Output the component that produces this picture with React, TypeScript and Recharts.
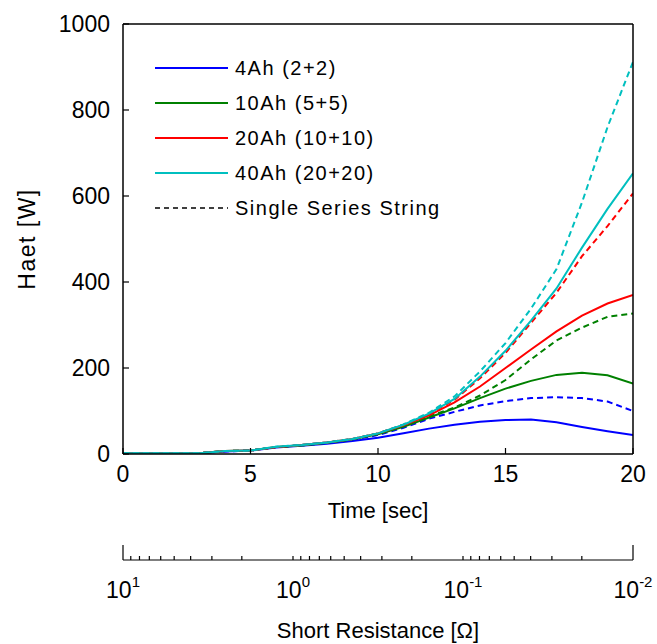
import React from 'react'
import { LineChart, Line, XAxis, YAxis, Legend } from 'recharts'

// time axis (sec) and heat (W) for each pack
const TIME = [0, 1, 2, 3, 4, 5, 6, 7, 8, 9, 10, 11, 12, 13, 14, 15, 16, 17, 18, 19, 20]
const AH4 = [2, 2, 2, 2, 6, 8, 15, 19, 24, 30, 38, 48, 59, 68, 75, 79, 80, 74, 63, 53, 44]
const AH4_SINGLE = [2, 2, 2, 2, 6, 8, 16, 20, 26, 33, 44, 61, 82, 98, 113, 123, 130, 132, 130, 122, 100]
const AH10 = [2, 2, 2, 2, 7, 8, 16, 20, 26, 34, 46, 63, 85, 106, 130, 152, 170, 184, 189, 183, 164]
const AH10_SINGLE = [2, 2, 2, 2, 7, 8, 16, 20, 26, 34, 47, 65, 88, 108, 136, 172, 220, 264, 294, 319, 327]
const AH20 = [2, 2, 2, 2, 7, 8, 16, 21, 27, 35, 48, 67, 90, 120, 157, 200, 243, 285, 322, 350, 370]
const AH20_SINGLE = [2, 2, 2, 2, 7, 8, 16, 21, 27, 35, 48, 68, 93, 126, 176, 235, 305, 375, 460, 530, 606]
const AH40 = [2, 2, 2, 2, 7, 8, 17, 21, 27, 35, 48, 68, 94, 128, 180, 240, 310, 385, 480, 570, 653]
const AH40_SINGLE = [2, 2, 2, 2, 7, 8, 17, 21, 27, 35, 48, 69, 96, 134, 192, 258, 338, 430, 585, 760, 912]

const TIME_DOMAIN = [0, 20]
const TIME_TICKS = [0, 5, 10, 15, 20]
const HEAT_DOMAIN = [0, 1000]
const HEAT_TICKS = [0, 200, 400, 600, 800, 1000]
// short resistance falls one decade every 20/3 s, from 10 ohm at t=0 to 0.01 ohm at t=20
const RES_TICKS = [
  10, 9, 8, 7, 6, 5, 4, 3, 2,
  1, 0.9, 0.8, 0.7, 0.6, 0.5, 0.4, 0.3, 0.2,
  0.1, 0.09, 0.08, 0.07, 0.06, 0.05, 0.04, 0.03, 0.02,
  0.01,
]
const RES_EXP: Record<string, string> = { '10': '1', '1': '0', '0.1': '-1', '0.01': '-2' }
const RES_TICK_POS = RES_TICKS.map((r) => (20 * (1 - Math.log10(r))) / 3)

const LEGEND_LABELS = ['4Ah (2+2)', '10Ah (5+5)', '20Ah (10+10)', '40Ah (20+20)', 'Single Series String']
const LEGEND_COLORS = ['#0000ff', '#008000', '#ff0000', '#00bfbf', '#000000']

const data = TIME.map((t, i) => ({
  t,
  a4: AH4[i],
  a4s: AH4_SINGLE[i],
  a10: AH10[i],
  a10s: AH10_SINGLE[i],
  a20: AH20[i],
  a20s: AH20_SINGLE[i],
  a40: AH40[i],
  a40s: AH40_SINGLE[i],
}))

const FONT = '"Liberation Sans", Arial, sans-serif'
const axisLine = { stroke: '#000', strokeWidth: 1.5 }
const tickLine = { stroke: '#000', strokeWidth: 1.2 }
const tickText = { fill: '#000', fontSize: 23, fontFamily: FONT }
const timeLabel = { value: 'Time [sec]', position: 'insideTop', offset: 48, fill: '#000', fontSize: 22 }
const resLabel = { value: 'Short Resistance [Ω]', position: 'insideBottom', offset: 6, fill: '#000', fontSize: 22 }
const heatLabel = {
  value: 'Haet [W]',
  angle: -90,
  position: 'insideLeft',
  offset: 27,
  fill: '#000',
  fontSize: 23,
  letterSpacing: 1.5,
  style: { textAnchor: 'middle' },
}

function ResTick({ x, y, payload, index }: any) {
  const i = payload.index ?? index
  const r = RES_TICKS[i]
  const exp = RES_EXP[String(r)]
  const isEnd = i === 0 || i === RES_TICKS.length - 1
  return (
    <g>
      <line x1={x} x2={x} y1={y} y2={y - (isEnd ? 15 : 4)} stroke="#000" strokeWidth={1.2} />
      {exp !== undefined && (
        <text x={x} y={y + 38} textAnchor="middle" fontSize={23} fill="#000" fontFamily={FONT}>
          10
          <tspan dy={-11} fontSize={15}>{exp}</tspan>
        </text>
      )}
    </g>
  )
}

function LegendBox() {
  return (
    <svg width={330} height={180}>
      {LEGEND_LABELS.map((label, i) => {
        const cy = 18 + i * 35
        const dashed = i === LEGEND_LABELS.length - 1
        return (
          <g key={label}>
            <line
              x1={5}
              x2={78}
              y1={cy}
              y2={cy}
              stroke={LEGEND_COLORS[i]}
              strokeWidth={dashed ? 1.5 : 2}
              strokeDasharray={dashed ? '5 4' : undefined}
            />
            <text x={85} y={cy + 7} fontSize={20} letterSpacing={1.5} fill="#000" fontFamily={FONT}>
              {label}
            </text>
          </g>
        )
      })}
    </svg>
  )
}

const renderLegend = () => <LegendBox />

export default function App() {
  return (
    <div style={{ position: 'absolute', left: 0, top: 0, background: '#fff' }}>
      <LineChart
        width={657}
        height={644}
        data={data}
        margin={{ top: 24, right: 24, bottom: 0, left: 0 }}
        style={{ fontFamily: FONT }}
      >
        {/* bottom axes are stacked by id: "a" sits on the plot, "b" below it */}
        <XAxis
          xAxisId="a"
          dataKey="t"
          type="number"
          domain={TIME_DOMAIN}
          allowDataOverflow
          ticks={TIME_TICKS}
          interval={0}
          height={106}
          axisLine={axisLine}
          tickLine={tickLine}
          tickSize={-6}
          tickMargin={18}
          tick={tickText}
          label={timeLabel}
        />
        <XAxis
          xAxisId="b"
          dataKey="t"
          type="number"
          domain={TIME_DOMAIN}
          allowDataOverflow
          ticks={RES_TICK_POS}
          interval={0}
          height={84}
          axisLine={tickLine}
          tickLine={false}
          tickSize={0}
          tickMargin={0}
          tick={<ResTick />}
          label={resLabel}
        />
        <XAxis
          xAxisId="c"
          orientation="top"
          type="number"
          dataKey="t"
          domain={TIME_DOMAIN}
          allowDataOverflow
          ticks={TIME_TICKS}
          mirror
          height={1}
          axisLine={axisLine}
          tickLine={tickLine}
          tickSize={6}
          tick={false}
        />
        <YAxis
          yAxisId="left"
          type="number"
          domain={HEAT_DOMAIN}
          allowDataOverflow
          ticks={HEAT_TICKS}
          interval={0}
          width={123}
          axisLine={axisLine}
          tickLine={tickLine}
          tickSize={-6}
          tickMargin={19}
          tick={tickText}
          label={heatLabel}
        />
        <YAxis
          yAxisId="right"
          orientation="right"
          type="number"
          domain={HEAT_DOMAIN}
          allowDataOverflow
          ticks={HEAT_TICKS}
          mirror
          width={1}
          axisLine={axisLine}
          tickLine={tickLine}
          tickSize={6}
          tick={false}
        />
        <Legend
          layout="vertical"
          align="center"
          verticalAlign="middle"
          wrapperStyle={{ left: 150, top: 50, width: 330 }}
          content={renderLegend}
        />
        <Line xAxisId="a" yAxisId="left" dataKey="a4" stroke="#0000ff" strokeWidth={2} dot={false} isAnimationActive={false} />
        <Line xAxisId="a" yAxisId="left" dataKey="a4s" stroke="#0000ff" strokeWidth={2} strokeDasharray="6 4" dot={false} isAnimationActive={false} />
        <Line xAxisId="a" yAxisId="left" dataKey="a10" stroke="#008000" strokeWidth={2} dot={false} isAnimationActive={false} />
        <Line xAxisId="a" yAxisId="left" dataKey="a10s" stroke="#008000" strokeWidth={2} strokeDasharray="6 4" dot={false} isAnimationActive={false} />
        <Line xAxisId="a" yAxisId="left" dataKey="a20" stroke="#ff0000" strokeWidth={2} dot={false} isAnimationActive={false} />
        <Line xAxisId="a" yAxisId="left" dataKey="a20s" stroke="#ff0000" strokeWidth={2} strokeDasharray="6 4" dot={false} isAnimationActive={false} />
        <Line xAxisId="a" yAxisId="left" dataKey="a40" stroke="#00bfbf" strokeWidth={2} dot={false} isAnimationActive={false} />
        <Line xAxisId="a" yAxisId="left" dataKey="a40s" stroke="#00bfbf" strokeWidth={2} strokeDasharray="6 4" dot={false} isAnimationActive={false} />
      </LineChart>
    </div>
  )
}
